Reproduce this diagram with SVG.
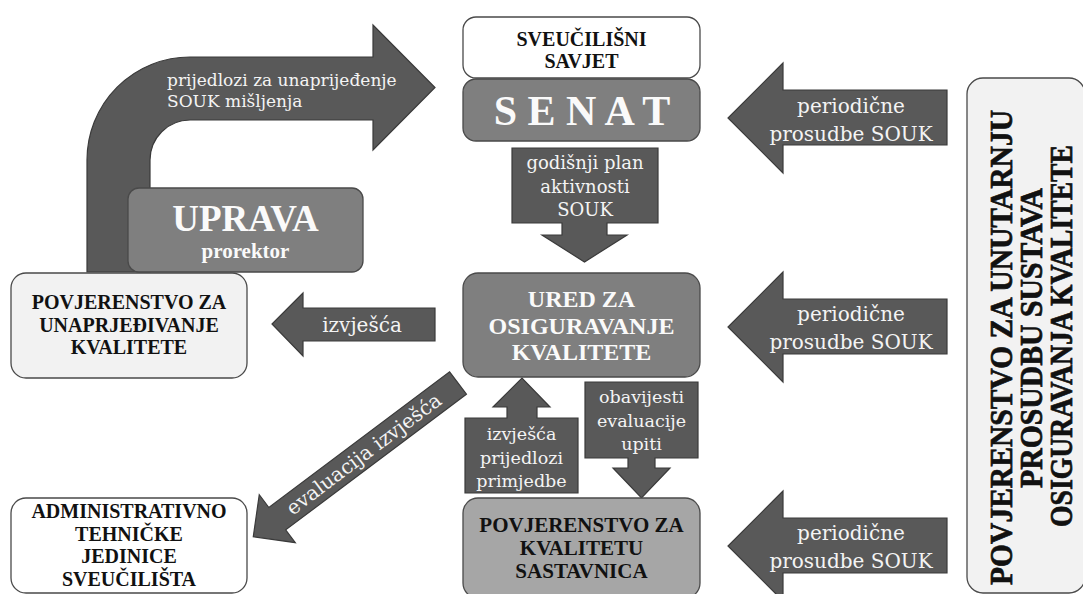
<svg xmlns="http://www.w3.org/2000/svg" width="1083" height="594" viewBox="0 0 1083 594">
<style>
.arr{fill:#595959;stroke:#3a3a3a;stroke-width:1.2}
.lbl{fill:#f4f4f4;text-anchor:middle}
.hd{font-weight:bold;text-anchor:middle}
.dark{fill:#111}
.white{fill:#fafafa}
.box{stroke:#4a4a4a;stroke-width:1.3}
.vt{stroke:#111;stroke-width:0.7}
</style>
<rect width="1083" height="594" fill="#ffffff"/>
<g id="connectors" font-family="DejaVu Serif, Liberation Serif, serif">
  <g id="bent-arrow">
    <path class="arr" d="M87,272 V160 A103,103 0 0 1 190,57 H373 V25 L435,87.5 L373,150 V120 H190 A40,40 0 0 0 150,160 V272 Z"/>
    <text class="lbl" style="text-anchor:start" font-size="17" x="167" y="86">prijedlozi za unaprijeđenje</text>
    <text class="lbl" style="text-anchor:start" font-size="17" x="167" y="107">SOUK mišljenja</text>
  </g>
  <g id="arrow-plan">
    <path class="arr" d="M512,148 H658 V223 H607 V235 H627 L584.5,262 L542,235 H562 V223 H512 Z"/>
    <text class="lbl" font-size="18" x="585" y="169">godišnji plan</text>
    <text class="lbl" font-size="18" x="585" y="193">aktivnosti</text>
    <text class="lbl" font-size="18" x="585" y="216">SOUK</text>
  </g>
  <g id="arrow-izvjesca">
    <path class="arr" d="M435,308 V341 H303 V356 L272,324 L303,293 V308 Z"/>
    <text class="lbl" font-size="20" x="362" y="332">izvješća</text>
  </g>
  <g id="arrow-evaluacija" transform="translate(458,383) rotate(143.1)">
    <path class="arr" d="M0,-14 H226 V-30 L256,0 L226,30 V14 H0 Z"/>
    <text class="lbl" font-size="20" transform="translate(118,0) rotate(180)" y="7">evaluacija izvješća</text>
  </g>
  <g id="arrow-up">
    <path class="arr" d="M465,418 H507 V407 H493 L522,378 L550,407 H537 V418 H578 V493 H465 Z"/>
    <text class="lbl" font-size="17.5" x="521.5" y="440">izvješća</text>
    <text class="lbl" font-size="17.5" x="521.5" y="464">prijedlozi</text>
    <text class="lbl" font-size="17.5" x="521.5" y="487">primjedbe</text>
  </g>
  <g id="arrow-down">
    <path class="arr" d="M585,382 H698 V458 H655 V468 H670 L641.5,498 L613,468 H628 V458 H585 Z"/>
    <text class="lbl" font-size="17.5" x="641.5" y="403">obavijesti</text>
    <text class="lbl" font-size="17.5" x="641.5" y="427">evaluacije</text>
    <text class="lbl" font-size="17.5" x="641.5" y="450">upiti</text>
  </g>
  <g id="arrow-right-1">
    <path class="arr" d="M947,90 V145 H783 V173 L728,118 L783,63 V90 Z"/>
    <text class="lbl" font-size="20" x="851" y="113">periodične</text>
    <text class="lbl" font-size="20" x="851" y="141">prosudbe SOUK</text>
  </g>
  <g id="arrow-right-2">
    <path class="arr" d="M947,299 V354 H783 V382 L728,327 L783,272 V299 Z"/>
    <text class="lbl" font-size="20" x="851" y="321">periodične</text>
    <text class="lbl" font-size="20" x="851" y="349">prosudbe SOUK</text>
  </g>
  <g id="arrow-right-3">
    <path class="arr" d="M947,518 V573 H783 V601 L728,546 L783,491 V518 Z"/>
    <text class="lbl" font-size="20" x="851" y="540">periodične</text>
    <text class="lbl" font-size="20" x="851" y="568">prosudbe SOUK</text>
  </g>
</g>
<g font-family="Liberation Serif, Times New Roman, serif">
<g id="uprava">
  <rect class="box" x="128" y="188" width="235" height="84" rx="11" fill="#7f7f7f"/>
  <text class="hd white" font-size="37" x="245.5" y="231">UPRAVA</text>
  <text class="hd white" font-size="21" x="245.5" y="258">prorektor</text>
</g>
<g id="povjerenstvo-unaprjedivanje">
  <rect class="box" x="11" y="273" width="236" height="105" rx="15" fill="#f2f2f2"/>
  <text class="hd dark" font-size="20" x="129" y="309">POVJERENSTVO ZA</text>
  <text class="hd dark" font-size="20" x="129" y="332">UNAPRJEĐIVANJE</text>
  <text class="hd dark" font-size="20" x="129" y="354">KVALITETE</text>
</g>
<g id="administrativno">
  <rect class="box" x="11" y="498" width="236" height="95" rx="15" fill="#ffffff"/>
  <text class="hd dark" font-size="20" x="129" y="518">ADMINISTRATIVNO</text>
  <text class="hd dark" font-size="20" x="129" y="541">TEHNIČKE</text>
  <text class="hd dark" font-size="20" x="129" y="563">JEDINICE</text>
  <text class="hd dark" font-size="20" x="129" y="586">SVEUČILIŠTA</text>
</g>
<g id="savjet">
  <rect class="box" x="463" y="17" width="237" height="61" rx="13" fill="#ffffff"/>
  <text class="hd dark" font-size="20" x="581.5" y="46">SVEUČILIŠNI</text>
  <text class="hd dark" font-size="20" x="581.5" y="68">SAVJET</text>
</g>
<g id="senat">
  <rect class="box" x="463" y="79" width="237" height="62" rx="13" fill="#7f7f7f"/>
  <text class="hd white" font-size="42" x="582" y="125">S E N A T</text>
</g>
<g id="ured">
  <rect class="box" x="463" y="273" width="237" height="104" rx="15" fill="#7f7f7f"/>
  <text class="hd white" font-size="24" x="581.5" y="307">URED ZA</text>
  <text class="hd white" font-size="24" x="581.5" y="334">OSIGURAVANJE</text>
  <text class="hd white" font-size="24" x="581.5" y="360">KVALITETE</text>
</g>
<g id="povjerenstvo-sastavnica">
  <rect class="box" x="463" y="498" width="237" height="100" rx="15" fill="#a6a6a6"/>
  <text class="hd dark" font-size="21" x="581.5" y="532">POVJERENSTVO ZA</text>
  <text class="hd dark" font-size="21" x="581.5" y="555">KVALITETU</text>
  <text class="hd dark" font-size="21" x="581.5" y="578">SASTAVNICA</text>
</g>
<g id="povjerenstvo-unutarnja">
  <rect class="box" x="967" y="78" width="118" height="515" rx="16" fill="#f2f2f2"/>
  <text class="hd dark vt" font-size="32" transform="translate(1012,347.5) rotate(-90)" textLength="475" lengthAdjust="spacingAndGlyphs">POVJERENSTVO ZA UNUTARNJU</text>
  <text class="hd dark vt" font-size="32" transform="translate(1042,338) rotate(-90)" textLength="300" lengthAdjust="spacingAndGlyphs">PROSUDBU SUSTAVA</text>
  <text class="hd dark vt" font-size="32" transform="translate(1072,336) rotate(-90)" textLength="382" lengthAdjust="spacingAndGlyphs">OSIGURAVANJA KVALITETE</text>
</g>
</g>
</svg>
